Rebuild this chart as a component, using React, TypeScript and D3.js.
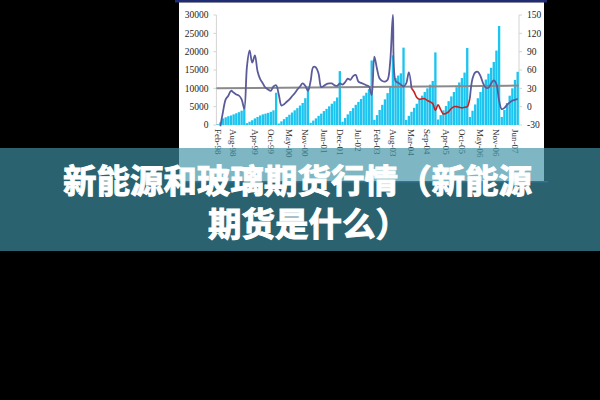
import React from 'react'
import * as d3 from 'd3'

// monthly categories, Feb-98 .. Jul-07
const months: string[] = d3
  .timeMonth.range(new Date(1998, 1, 1), new Date(2007, 7, 1))
  .map(d3.timeFormat('%b-%y'))

const xTickLabels = [
  'Feb-98', 'Aug-98', 'Apr-99', 'Oct-99', 'May-00', 'Nov-00', 'Jun-01', 'Dec-01', 'Jul-02',
  'Feb-03', 'Aug-03', 'Mar-04', 'Sep-04', 'Apr-05', 'Oct-05', 'May-06', 'Nov-06', 'Jun-07',
]
const leftTicks = [0, 5000, 10000, 15000, 20000, 25000, 30000]
const rightTicks = [-30, 0, 30, 60, 90, 120, 150]

// cumulative volume per year (bars, left axis)
const bars1998 = [200, 700, 1800, 2100, 2400, 2600, 2900, 3200, 3500, 3900, 5000]
const bars1999 = [500, 900, 1300, 1800, 2200, 2600, 2900, 3100, 3300, 3600, 4000, 8800]
const bars2000 = [400, 1000, 1600, 2200, 2800, 3400, 4000, 4600, 5300, 6000, 7300, 10500]
const bars2001 = [600, 1200, 1800, 2500, 3100, 3800, 4400, 5100, 5800, 6500, 7500, 14700]
const bars2002 = [900, 1900, 2900, 3800, 4600, 5500, 6300, 7100, 8000, 8800, 9800, 17600]
const bars2003 = [1400, 2700, 4100, 5500, 7000, 8700, 10500, 19000, 12800, 13500, 14100, 21100]
const bars2004 = [1400, 2500, 3600, 4700, 5800, 6900, 8000, 9000, 10000, 11000, 12000, 19800]
const bars2005 = [1500, 2700, 4000, 5200, 6500, 7800, 9000, 10300, 11600, 12800, 14300, 21000]
const bars2006 = [2200, 3900, 5600, 7300, 9000, 10700, 12400, 14000, 15600, 17200, 20300, 27000]
const bars2007 = [2200, 4100, 6000, 8000, 10000, 12300, 14500]

// growth rate (line, right axis)
const growth1998 = [null, -32, -8, 12, 18, 26, 23, 20, 18, 12, -3]
const growth1999 = [65, 92, 72, 84, 58, 45, 38, 31, 28, 26, 33, 35]
const growth2000 = [20, 2, 4, 8, 12, 17, 22, 28, 33, 38, 34, 26]
const growth2001 = [42, 65, 64, 54, 32, 34, 37, 38, 38, 35, 34, 38]
const growth2002 = [36, 40, 46, 44, 50, 52, 41, 39, 37, 35, 33, 19]
const growth2003 = [82, 62, 46, 42, 41, 44, 75, 150, 42, 39, 36, 33]
const growth2004 = [38, 56, 30, 24, 15, 12, 13, 13, 10, 8, 5, -6]
const growth2005 = [3, -5, -12, -11, -8, -3, 0, 0, -1, -2, -1, 0]
const growth2006 = [14, 46, 56, 57, 50, 38, 31, 31, 38, 43, 37, 10]
const growth2007 = [-4, -2, 3, 7, 10, 11, 13]

// red part of the line
const redFrom = 'Mar-04'
const redTo = 'Jan-06'

// grey reference line, start / end (right axis)
const refLine = [30, 34.5]

const bars = [
  ...bars1998, ...bars1999, ...bars2000, ...bars2001, ...bars2002,
  ...bars2003, ...bars2004, ...bars2005, ...bars2006, ...bars2007,
]
const growth: (number | null)[] = [
  ...growth1998, ...growth1999, ...growth2000, ...growth2001, ...growth2002,
  ...growth2003, ...growth2004, ...growth2005, ...growth2006, ...growth2007,
]

const serif = '"Liberation Serif", "Times New Roman", serif'
const cjk = '"Noto Sans CJK SC", "Noto Sans", sans-serif'

const App: React.FC = () => {
  const x = d3.scaleBand<string>().domain(months).range([216.4, 519]).paddingInner(0.12).paddingOuter(0.06)
  const cx = (m: string) => (x(m) ?? 0) + x.bandwidth() / 2
  const yL = d3.scaleLinear().domain([0, 30000]).range([125, 15])
  const yR = d3.scaleLinear().domain([-30, 150]).range([125, 15])

  const r0 = months.indexOf(redFrom)
  const r1 = months.indexOf(redTo)

  const mkLine = (keep: (i: number) => boolean) =>
    d3.line<number | null>()
      .defined((d, i) => d != null && keep(i))
      .x((_, i) => cx(months[i]))
      .y(d => yR(d as number))
      .curve(d3.curveCatmullRom.alpha(0.5))

  const bluePath = mkLine(i => i <= r0 || i >= r1)(growth) ?? ''
  const redPath = mkLine(i => i >= r0 && i <= r1)(growth) ?? ''

  const [x0, x1] = x.range()
  const refPath = d3.line<number>()
    .x((_, i) => (i === 0 ? x0 : x1))
    .y(d => yR(d))(refLine) ?? ''

  return (
    <div style={{ position: 'fixed', left: 0, top: 0, width: 600, height: 400, background: '#000' }}>
      <svg width={600} height={400} style={{ display: 'block' }}>
        {/* chart picture */}
        <rect x={175} y={0} width={372} height={2.5} fill="#1f2b72" />
        <rect x={179} y={2.5} width={365} height={179} fill="#fff" />
        <rect x={178} y={181} width={370} height={1.5} fill="#1f2b72" />

        {/* axes */}
        <line x1={x0} x2={x0} y1={yL(30000)} y2={yL(0)} stroke="#d4d4d4" />
        <line x1={x1} x2={x1} y1={yR(150)} y2={yR(-30)} stroke="#d4d4d4" />
        {leftTicks.map(t => (
          <g key={'l' + t}>
            <line x1={x0 - 3} x2={x0} y1={yL(t)} y2={yL(t)} stroke="#d4d4d4" />
            <text x={208.5} y={yL(t)} dy="0.35em" textAnchor="end" fontFamily={serif} fontSize={9.5} fill="#222">
              {t}
            </text>
          </g>
        ))}
        {rightTicks.map(t => (
          <g key={'r' + t}>
            <line x1={x1} x2={x1 + 3} y1={yR(t)} y2={yR(t)} stroke="#d4d4d4" />
            <text x={527} y={yR(t)} dy="0.35em" textAnchor="start" fontFamily={serif} fontSize={9.5} fill="#222">
              {t}
            </text>
          </g>
        ))}

        {/* bars */}
        {bars.map((v, i) => (
          <rect
            key={months[i]}
            x={x(months[i])}
            y={yL(v)}
            width={x.bandwidth()}
            height={yL(0) - yL(v)}
            fill="#1bc5f0"
          />
        ))}

        <path d={refPath} fill="none" stroke="#8a8a8a" strokeWidth={2} />
        <path d={bluePath} fill="none" stroke="#5b5b9b" strokeWidth={1.8} />
        <path d={redPath} fill="none" stroke="#cc2020" strokeWidth={1.6} />

        {xTickLabels.map(m => (
          <text
            key={m}
            transform={`translate(${cx(m)},129) rotate(90)`}
            dy="0.35em"
            fontFamily={serif}
            fontSize={9}
            fill="#333"
          >
            {m}
          </text>
        ))}

        {/* title banner */}
        <rect x={0} y={148} width={600} height={103} fill="#3f93a5" opacity={0.67} />
        <g fontFamily={cjk} fontWeight={700} fontSize={33.5} fill="#fff" stroke="#fff" strokeWidth={1}>
          <text x={63} y={193}>新能源和玻璃期货行情（新能源</text>
          <text x={208} y={235.5}>期货是什么）</text>
        </g>
      </svg>
    </div>
  )
}

export default App
